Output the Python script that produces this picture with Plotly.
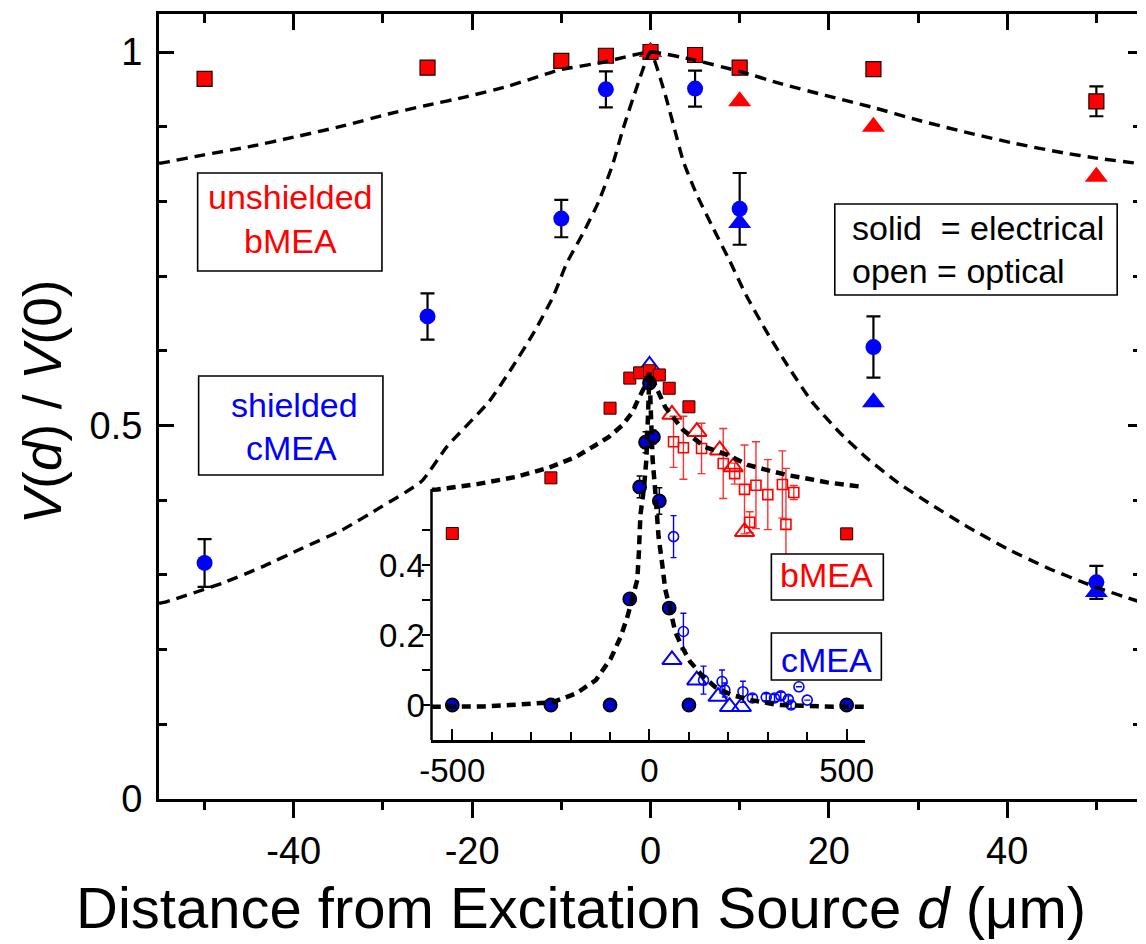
import plotly.graph_objects as go

# ---------------- data ----------------
# main panel: distance d (um)
main_d = [-50, -25, -10, -5, 0, 5, 10, 25, 50]
bmea_elec_v = [0.964, 0.979, 0.988, 0.995, 1.0, 0.996, 0.979, 0.977, 0.934]
bmea_elec_err = [0.0, 0.0, 0.004, 0.006, 0.0, 0.006, 0.006, 0.005, 0.02]
cmea_elec_v = [0.316, 0.646, 0.777, 0.950, 1.0, 0.951, 0.790, 0.605, 0.290]
cmea_elec_err = [0.032, 0.031, 0.025, 0.024, 0.0, 0.024, 0.048, 0.041, 0.022]
opt_d = [0, 10, 25, 50]
bmea_opt_v = [1.0, 0.934, 0.900, 0.833]
cmea_opt_v = [1.0, 0.771, 0.531, 0.277]

# main panel fitted curves (dashed)
fit_b_d = [-55.1, -54.1, -50.2, -45.1, -40, -34.5, -29.4, -25.3, -20.7, -16, -10.2, -5.4, 0,
           5, 10, 14.8, 19.6, 25.2, 29.6, 35.2, 40.7, 46.3, 50, 54.6]
fit_b_v = [0.851, 0.853, 0.862, 0.873, 0.886, 0.901, 0.917, 0.928, 0.940, 0.954, 0.976, 0.986, 1.0,
           0.989, 0.974, 0.957, 0.942, 0.925, 0.910, 0.893, 0.878, 0.865, 0.858, 0.851]
fit_c_d = [-55.1, -54.3, -48, -43.5, -39, -34.6, -30.2, -25.7, -22.8, -18.1, -15.6, -13, -10.9, -9.4,
           -7.4, -5.8, -4.25, -3.08, -1.5, 0, 1.67, 2.78, 3.7, 5.19, 7.04, 8.9, 10.7, 13, 15.6, 18.1,
           21.1, 24.1, 27.8, 31.5, 35.6, 40, 44.4, 49.6, 54.6]
fit_c_v = [0.262, 0.264, 0.289, 0.311, 0.336, 0.360, 0.391, 0.425, 0.472, 0.532, 0.576, 0.626, 0.673,
           0.717, 0.761, 0.800, 0.849, 0.897, 0.954, 1.0, 0.942, 0.893, 0.853, 0.809, 0.764, 0.720,
           0.675, 0.626, 0.576, 0.532, 0.492, 0.458, 0.423, 0.394, 0.364, 0.335, 0.310, 0.285, 0.265]

# inset panel
in_b_elec_u = [-500, -250, -100, -50, -25, 0, 25, 50, 100, 500]
in_b_elec_v = [0.490, 0.649, 0.848, 0.934, 0.949, 0.955, 0.943, 0.905, 0.852, 0.489]
in_c_elec_u = [-500, -250, -100, -50, -25, -10, 0, 10, 25, 50, 100, 500]
in_c_elec_v = [0.0, 0.0, 0.0, 0.303, 0.623, 0.751, 0.920, 0.766, 0.583, 0.277, 0.0, 0.0]
in_c_elec_err = [0.0, 0.0, 0.0, 0.015, 0.031, 0.03, 0.0, 0.02, 0.038, 0.015, 0.0, 0.0]
in_b_opt_sq_u = [61, 86, 132, 187, 216, 241, 254, 270, 300, 337, 346, 366]
in_b_opt_sq_v = [0.752, 0.735, 0.733, 0.690, 0.661, 0.616, 0.522, 0.628, 0.601, 0.630, 0.516, 0.607]
in_b_opt_sq_err = [0.073, 0.09, 0.072, 0.10, 0.03, 0.127, 0.03, 0.124, 0.10, 0.096, 0.16, 0.02]
in_b_opt_tri_u = [57, 120, 178, 212, 241]
in_b_opt_tri_v = [0.830, 0.781, 0.728, 0.680, 0.495]
in_c_opt_tri_u = [0, 57, 120, 174, 203, 233]
in_c_opt_tri_v = [0.970, 0.129, 0.071, 0.024, -0.005, -0.005]
in_c_opt_circ_u = [61, 86, 137, 184, 191, 237, 261, 296, 317, 333, 352, 359, 379, 400]
in_c_opt_circ_v = [0.481, 0.210, 0.071, 0.067, 0.043, 0.038, 0.020, 0.022, 0.020, 0.026, 0.016, 0.0, 0.052, 0.014]
in_c_opt_circ_err = [0.06, 0.052, 0.04, 0.033, 0.02, 0.03, 0.01, 0.01, 0.01, 0.01, 0.01, 0.01, 0.0, 0.0]

in_fit_b_u = [-552, -538, -437, -337, -253, -186, -136, -103, -68, -43, -27, -10, 0,
              40, 85, 141, 199, 249, 299, 349, 409, 450, 535]
in_fit_b_v = [0.615, 0.616, 0.631, 0.652, 0.679, 0.709, 0.743, 0.766, 0.800, 0.837, 0.877, 0.914, 0.950,
              0.851, 0.786, 0.737, 0.714, 0.686, 0.671, 0.657, 0.645, 0.636, 0.624]
in_fit_c_u = [-552, -497, -420, -353, -300, -245, -186, -136, -98, -73, -56, -48, -31, -27, -23, -14, -8, -4, 0,
              4, 8, 14, 19, 23, 32, 40, 53, 65, 82, 103, 132, 166, 208, 258, 325, 417, 467, 547]
in_fit_c_v = [-0.005, -0.005, -0.004, 0.0, 0.003, 0.008, 0.033, 0.071, 0.133, 0.195, 0.252, 0.285, 0.357, 0.433,
              0.543, 0.62, 0.70, 0.82, 0.95, 0.82, 0.70, 0.62, 0.548, 0.481, 0.405, 0.33, 0.271, 0.21, 0.167,
              0.124, 0.086, 0.052, 0.029, 0.014, 0.0, -0.005, -0.005, -0.005]

# tick labels
x_ticks = [-40, -20, 0, 20, 40]
x_ticktext = ['-40', '-20', '0', '20', '40']
x_minor = [-50, -30, -10, 10, 30, 50]
y_ticks = [0, 0.5, 1]
y_ticktext = ['0', '0.5', '1']
y_minor = [0.1, 0.2, 0.3, 0.4, 0.6, 0.7, 0.8, 0.9]
ix_ticks = [-500, 0, 500]
ix_ticktext = ['-500', '0', '500']
ix_minor = [-400, -300, -200, -100, 100, 200, 300, 400]
iy_ticks = [0, 0.2, 0.4]
iy_ticktext = ['0', '0.2', '0.4']
iy_minor = [0.1, 0.3, 0.5]

# ---------------- layout geometry ----------------
W, H = 1146, 944
L, R, T, B = 159, 1146, 14, 799
RED = '#ff0000'
BLUE = '#0000ff'
FONT = 'Liberation Sans, Arial, sans-serif'


def fx(p):
    return (p - L) / (R - L)


def fy(p):
    return (B - p) / (B - T)


fig = go.Figure()

# ----- main panel markers -----
fig.add_trace(go.Scatter(x=main_d, y=cmea_elec_v, mode='markers', cliponaxis=False,
                         marker=dict(symbol='circle', size=16, color=BLUE, line=dict(width=0)),
                         error_y=dict(type='data', array=cmea_elec_err, color='black', thickness=2.2, width=7)))
fig.add_trace(go.Scatter(x=opt_d, y=cmea_opt_v, mode='markers', cliponaxis=False,
                         marker=dict(symbol='triangle-up', size=20, color=BLUE, line=dict(width=0))))
fig.add_trace(go.Scatter(x=main_d, y=bmea_elec_v, mode='markers', cliponaxis=False,
                         marker=dict(symbol='square', size=15, color=RED, line=dict(width=1.2, color='#220000')),
                         error_y=dict(type='data', array=bmea_elec_err, color='black', thickness=2.2, width=7)))
fig.add_trace(go.Scatter(x=opt_d, y=bmea_opt_v, mode='markers', cliponaxis=False,
                         marker=dict(symbol='triangle-up', size=20, color=RED, line=dict(width=0))))
# main fits
fig.add_trace(go.Scatter(x=fit_b_d, y=fit_b_v, mode='lines',
                         line=dict(color='black', width=3.4, dash='11px,7px', shape='spline', smoothing=0.5)))
fig.add_trace(go.Scatter(x=fit_c_d, y=fit_c_v, mode='lines',
                         line=dict(color='black', width=3.4, dash='11px,7px', shape='spline', smoothing=0.5)))

# dummy traces for top / right tick axes
fig.add_trace(go.Scatter(x=[None], y=[None], xaxis='x3', yaxis='y', hoverinfo='skip'))
fig.add_trace(go.Scatter(x=[None], y=[None], xaxis='x', yaxis='y3', hoverinfo='skip'))

# ----- inset markers -----
ins = dict(xaxis='x2', yaxis='y2', cliponaxis=False, mode='markers')
fig.add_trace(go.Scatter(x=in_b_opt_sq_u, y=in_b_opt_sq_v, **ins,
                         marker=dict(symbol='square-open', size=10, color=RED, line=dict(width=1.6, color=RED)),
                         error_y=dict(type='data', array=in_b_opt_sq_err, color='#ff3030', thickness=1.4, width=4)))
fig.add_trace(go.Scatter(x=in_b_opt_tri_u, y=in_b_opt_tri_v, **ins,
                         marker=dict(symbol='triangle-up-open', size=17, color=RED, line=dict(width=2, color=RED))))
fig.add_trace(go.Scatter(x=in_c_opt_circ_u, y=in_c_opt_circ_v, **ins,
                         marker=dict(symbol='circle-open', size=10, color=BLUE, line=dict(width=1.6, color=BLUE)),
                         error_y=dict(type='data', array=in_c_opt_circ_err, color=BLUE, thickness=1.4, width=3)))
fig.add_trace(go.Scatter(x=in_c_opt_tri_u, y=in_c_opt_tri_v, **ins,
                         marker=dict(symbol='triangle-up-open', size=17, color=BLUE, line=dict(width=2, color=BLUE))))
fig.add_trace(go.Scatter(x=in_b_elec_u, y=in_b_elec_v, **ins,
                         marker=dict(symbol='square', size=12, color=RED, line=dict(width=1, color='#220000'))))
fig.add_trace(go.Scatter(x=in_c_elec_u, y=in_c_elec_v, **ins,
                         marker=dict(symbol='circle', size=13, color='#0000cc', line=dict(width=1.8, color='black')),
                         error_y=dict(type='data', array=in_c_elec_err, color='black', thickness=1.5, width=3)))
# inset fits
fig.add_trace(go.Scatter(x=in_fit_b_u, y=in_fit_b_v, xaxis='x2', yaxis='y2', mode='lines',
                         line=dict(color='black', width=4.5, dash='9px,6px')))
fig.add_trace(go.Scatter(x=in_fit_c_u, y=in_fit_c_v, xaxis='x2', yaxis='y2', mode='lines',
                         line=dict(color='black', width=4.5, dash='9px,6px')))

xr = [-(655 - L) / 9.0, (R - 655) / 9.0]
yr = [0, (B - T) / 747.0]
ixr = [(434 - 654) / 0.398, (872 - 654) / 0.398]
iyr = [-0.1, 1.05]

tickfont = dict(family=FONT, size=38, color='black')
common = dict(showgrid=False, zeroline=False, linecolor='black', tickcolor='black')

fig.update_layout(
    width=W, height=H,
    margin=dict(l=L, r=W - R, t=T, b=H - B, pad=0),
    paper_bgcolor='white', plot_bgcolor='rgba(0,0,0,0)',
    showlegend=False,
    font=dict(family=FONT, color='black'),
    xaxis=dict(domain=[0, 1], range=xr, anchor='y', showline=True, linewidth=3, ticks='outside',
               tickvals=x_ticks, ticktext=x_ticktext, ticklen=16, tickwidth=2.5, tickfont=tickfont,
               ticklabelstandoff=0,
               minor=dict(tickvals=x_minor, ticklen=8, tickwidth=2.5, ticks='outside', tickcolor='black'),
               **common),
    xaxis3=dict(range=xr, overlaying='x', side='top', anchor='y', showline=True, linewidth=3,
                ticks='inside', tickvals=x_ticks, ticklen=16, tickwidth=2.5, showticklabels=False,
                minor=dict(tickvals=x_minor, ticklen=9, tickwidth=2.5, ticks='inside', tickcolor='black'),
                **common),
    yaxis=dict(domain=[0, 1], range=yr, anchor='x', showline=True, linewidth=3, ticks='inside',
               tickvals=y_ticks, ticktext=y_ticktext, ticklen=15, tickwidth=2.5, tickfont=tickfont,
               ticklabelstandoff=6,
               minor=dict(tickvals=y_minor, ticklen=8, tickwidth=2.5, ticks='inside', tickcolor='black'),
               **common),
    yaxis3=dict(range=yr, overlaying='y', side='right', anchor='x', showline=False, ticks='inside',
                tickvals=y_ticks, ticklen=9, tickwidth=2.5, showticklabels=False,
                minor=dict(tickvals=y_minor, ticklen=4, tickwidth=2.5, ticks='inside', tickcolor='black'),
                **common),
    xaxis2=dict(domain=[fx(434), fx(872)], range=ixr, anchor='y2', showline=True, linewidth=2.5,
                ticks='inside', tickvals=ix_ticks, ticktext=ix_ticktext, ticklen=11, tickwidth=2,
                tickfont=dict(family=FONT, size=33, color='black'), ticklabelstandoff=0,
                minor=dict(tickvals=ix_minor, ticklen=8, tickwidth=2, ticks='inside', tickcolor='black'),
                **common),
    yaxis2=dict(domain=[fy(740), fy(337.5)], range=iyr, anchor='x2', showline=False,
                ticks='outside', tickvals=iy_ticks, ticktext=iy_ticktext, ticklen=8, tickwidth=2,
                tickfont=dict(family=FONT, size=33, color='black'), ticklabelstandoff=-9,
                minor=dict(tickvals=iy_minor, ticklen=8, tickwidth=2, ticks='outside', tickcolor='black'),
                **common),
)

shapes = []
# inset left axis line (only up to ~0.617)
shapes.append(dict(type='line', xref='x2 domain', yref='y2', x0=0, x1=0, y0=-0.1, y1=0.617,
                   line=dict(color='black', width=2.5)))


def box(x0, x1, y0, y1):
    shapes.append(dict(type='rect', xref='paper', yref='paper', x0=fx(x0), x1=fx(x1), y0=fy(y1), y1=fy(y0),
                       line=dict(color='black', width=1.6), fillcolor='white', layer='above'))


box(198, 384, 173, 271)
box(199, 385, 376, 475)
box(841, 1126, 204, 295)
box(777, 890, 554, 600)
box(777, 888, 633, 680)
fig.update_layout(shapes=shapes)

ann = []


def text(s, px, py, color, size=34, xanchor='center', angle=0):
    ann.append(dict(text=s, x=fx(px), y=fy(py), xref='paper', yref='paper', showarrow=False,
                    xanchor=xanchor, yanchor='middle', textangle=angle,
                    font=dict(family=FONT, size=size, color=color)))


text('unshielded', 291.5, 197, RED)
text('bMEA', 291.5, 241, RED)
text('shielded', 296, 405, BLUE)
text('cMEA', 292.5, 448, BLUE)
text('solid\u00a0\u00a0= electrical', 856, 228, 'black', xanchor='left')
text('open = optical', 856, 271, 'black', xanchor='left')
text('bMEA', 833, 575, RED)
text('cMEA', 833, 660, BLUE)
text('Distance from Excitation Source <i>d</i> (μm)', 585, 907, 'black', size=58)
text('<i>V</i>(<i>d</i>) / <i>V</i>(0)', 41, 402, 'black', size=53, angle=-90)
fig.update_layout(annotations=ann)

fig.write_html('out.html', config={'displayModeBar': False},
               post_script="document.body.style.margin='0';document.body.style.padding='0';"
                           "document.body.style.overflow='hidden';")
